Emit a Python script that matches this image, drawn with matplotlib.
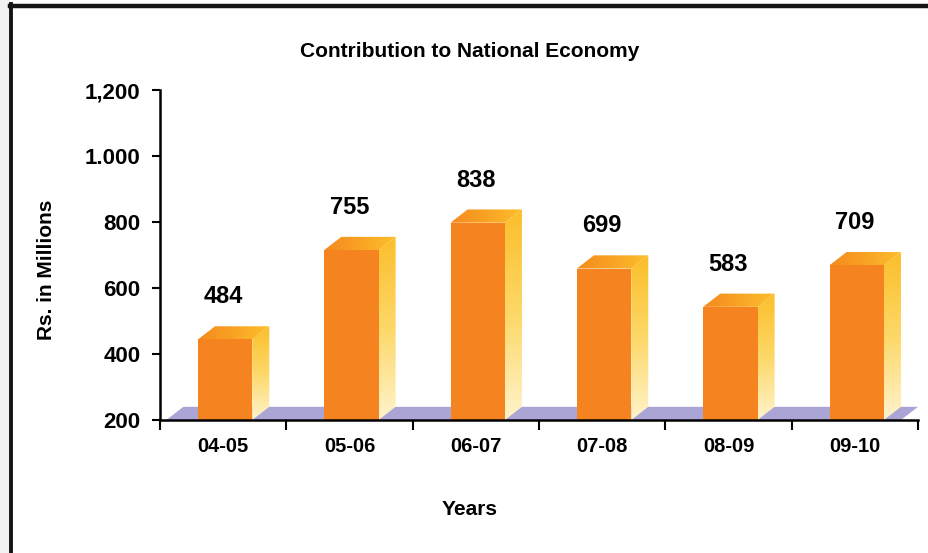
import numpy as np
import matplotlib.pyplot as plt
from matplotlib.patches import Polygon, Rectangle
from matplotlib.lines import Line2D
from matplotlib.colors import LinearSegmentedColormap

years = ["04-05", "05-06", "06-07", "07-08", "08-09", "09-10"]
values = [484, 755, 838, 699, 583, 709]
yticks = [200, 400, 600, 800, 1000, 1200]
ytick_labels = ["200", "400", "600", "800", "1.000", "1,200"]

plt.rcParams['font.family'] = ['Liberation Sans', 'DejaVu Sans']
plt.rcParams['font.weight'] = 'bold'

W, H = 929, 553
fig = plt.figure(figsize=(W / 100, H / 100), dpi=100)
ax = fig.add_axes([160 / W, 1 - 420 / H, (918 - 160) / W, (420 - 90) / H])
ax.set_xlim(-0.5, 5.5)
ax.set_ylim(200, 1200)

# 3d offsets (data units)
dx, dy = 0.135, 40
base = 200

front_col = "#F5831F"
floor_col = "#ABA5D6"

# floor
floor = Polygon([(-0.5 + 0.05, base), (5.5 - dx, base), (5.5, base + dy),
                 (-0.5 + dx + 0.05, base + dy)], closed=True,
                facecolor=floor_col, edgecolor="none", zorder=1, clip_on=False)
ax.add_patch(floor)

side_grad = np.linspace(0, 1, 256).reshape(-1, 1)
top_grad = np.linspace(0, 1, 256).reshape(1, -1)
side_cmap = LinearSegmentedColormap.from_list("side", ["#FFF3CC", "#FDD868", "#FBBE2A"])
top_cmap = LinearSegmentedColormap.from_list("top", ["#F58A1F", "#F9A324", "#FCC02C"])

for i, v in enumerate(values):
    xl, xr = i - 0.2, i + 0.23
    ft = v - dy
    # side face, vertical gradient
    side = Polygon([(xr, base), (xr + dx, base + dy), (xr + dx, v), (xr, ft)],
                   closed=True, facecolor="none", edgecolor="none")
    ax.add_patch(side)
    im = ax.imshow(side_grad, cmap=side_cmap, origin="lower", aspect="auto",
                   extent=(xr, xr + dx, base, v), zorder=2, interpolation="bilinear")
    im.set_clip_path(side)
    # top face, horizontal gradient
    top = Polygon([(xl, ft), (xl + dx, v), (xr + dx, v), (xr, ft)],
                  closed=True, facecolor="none", edgecolor="none")
    ax.add_patch(top)
    im2 = ax.imshow(top_grad, cmap=top_cmap, origin="lower", aspect="auto",
                    extent=(xl, xr + dx, ft, v), zorder=2, interpolation="bilinear")
    im2.set_clip_path(top)
    # front face
    ax.add_patch(Rectangle((xl, base), xr - xl, ft - base, facecolor=front_col,
                           edgecolor="none", zorder=3))
    ax.annotate(str(v), xy=(i, v), xytext=(0, 16.5), textcoords="offset points",
                ha="center", va="baseline", fontsize=17, fontweight="bold")

ax.set_xlim(-0.5, 5.5)
ax.set_ylim(200, 1200)

for s in ["top", "right"]:
    ax.spines[s].set_visible(False)
for s in ["left", "bottom"]:
    ax.spines[s].set_linewidth(1.8)
    ax.spines[s].set_zorder(4)

ax.set_xticks(range(len(years)))
ax.set_xticklabels(years, fontsize=14.5, fontweight="bold")
ax.set_xticks(np.arange(-0.5, 6, 1), minor=True)
ax.tick_params(axis="x", which="major", length=0, pad=12)
ax.tick_params(axis="x", which="minor", length=7, width=1.5, direction="out")
ax.set_yticks(yticks)
ax.set_yticklabels(ytick_labels, fontsize=16, fontweight="bold")
ax.tick_params(axis="y", length=6, width=1.5, pad=8)

fig.text(470 / W, 1 - 57 / H, "Contribution to National Economy", fontsize=15,
         fontweight="bold", ha="center", va="baseline")
fig.text(470 / W, 1 - 515 / H, "Years", fontsize=15, fontweight="bold",
         ha="center", va="baseline")
fig.text(47 / W, 1 - 270 / H, "Rs. in Millions", fontsize=15, fontweight="bold",
         ha="center", va="center", rotation=90)

# frame around the chart
fig.add_artist(Rectangle((0, 0), 10 / W, 1, transform=fig.transFigure,
                         facecolor="#F2F2F2", edgecolor="none", zorder=0))
fig.add_artist(Line2D([11.5 / W, 11.5 / W], [0, 1 - 4 / H], transform=fig.transFigure,
                      color="#151515", linewidth=2.8))
fig.add_artist(Line2D([10 / W, 1], [1 - 6 / H, 1 - 6 / H], transform=fig.transFigure,
                      color="#151515", linewidth=3.2))

fig.savefig("out.png", dpi=100)
